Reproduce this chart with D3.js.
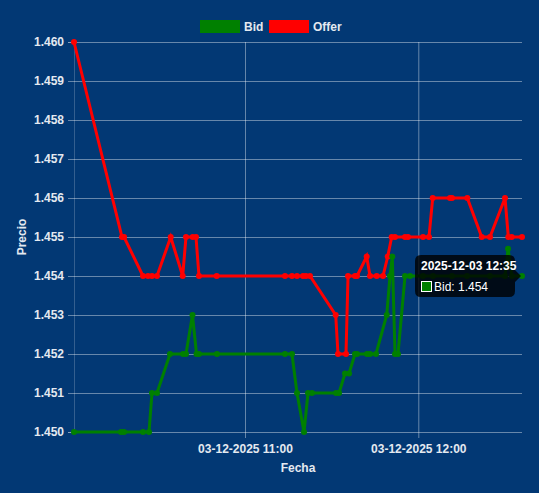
<!DOCTYPE html>
<html>
<head>
<meta charset="utf-8">
<script src="https://cdn.jsdelivr.net/npm/d3@7"></script>
<style>
  html, body { margin: 0; padding: 0; background: #023874; }
  svg { display: block; font-family: "Liberation Sans", Arial, sans-serif; }
</style>
</head>
<body>
<svg id="chart" width="539" height="493"></svg>
<script>
const day = '2025-12-03';

const bidTimes = [
  '10:00:48', '10:17:04', '10:18:07', '10:24:41', '10:26:46', '10:27:48', '10:29:32',
  '10:34:02', '10:38:32', '10:39:34', '10:41:49', '10:43:13', '10:44:04', '10:50:18',
  '11:13:51', '11:16:16', '11:18:00', '11:20:26', '11:21:49', '11:23:12', '11:31:31',
  '11:32:33', '11:34:37', '11:36:01', '11:38:05', '11:38:47', '11:42:14', '11:43:17',
  '11:45:21', '11:49:04', '11:50:12', '11:51:00', '11:51:56', '11:52:58', '11:55:24',
  '11:57:08', '12:01:38', '12:05:05', '12:11:40', '12:16:52', '12:24:49', '12:30:01',
  '12:31:04', '12:32:26', '12:35:54'
];
const bidValues = [
  1.450, 1.450, 1.450, 1.450, 1.450, 1.451, 1.451,
  1.452, 1.452, 1.452, 1.453, 1.452, 1.452, 1.452,
  1.452, 1.452, 1.451, 1.450, 1.451, 1.451, 1.451,
  1.451, 1.4515, 1.4515, 1.452, 1.452, 1.452, 1.452,
  1.452, 1.453, 1.454, 1.4545, 1.452, 1.452, 1.454,
  1.454, 1.454, 1.454, 1.454, 1.454, 1.454, 1.454,
  1.4547, 1.454, 1.454
];

const offerTimes = [
  '10:00:48', '10:17:25', '10:18:07', '10:24:41', '10:26:25', '10:27:48', '10:29:32',
  '10:34:17', '10:38:26', '10:39:34', '10:41:53', '10:43:02', '10:44:04', '10:50:12',
  '11:13:51', '11:16:16', '11:18:00', '11:20:05', '11:21:07', '11:22:30', '11:31:24',
  '11:32:12', '11:34:58', '11:35:40', '11:38:05', '11:38:47', '11:42:08', '11:43:17',
  '11:45:36', '11:47:47', '11:49:25', '11:50:47', '11:51:56', '11:55:24', '11:56:26',
  '12:01:38', '12:03:42', '12:04:59', '12:10:59', '12:11:40', '12:16:58', '12:21:57',
  '12:24:49', '12:30:01', '12:31:10', '12:32:20', '12:35:54'
];
const offerValues = [
  1.460, 1.455, 1.455, 1.454, 1.454, 1.454, 1.454,
  1.455, 1.454, 1.455, 1.455, 1.455, 1.454, 1.454,
  1.454, 1.454, 1.454, 1.454, 1.454, 1.454, 1.453,
  1.452, 1.452, 1.454, 1.454, 1.454, 1.4545, 1.454,
  1.454, 1.454, 1.4545, 1.455, 1.455, 1.455, 1.455,
  1.455, 1.455, 1.456, 1.456, 1.456, 1.456, 1.455,
  1.455, 1.456, 1.455, 1.455, 1.455
];

const yTicks = [1.450, 1.451, 1.452, 1.453, 1.454, 1.455, 1.456, 1.457, 1.458, 1.459, 1.460];
const xTicks = ['11:00:00', '12:00:00'];

const seriesNames = ['Bid', 'Offer'];
const seriesColors = { 'Bid': '#008000', 'Offer': '#ff0000' };

const parseTime = d3.timeParse('%Y-%m-%d %H:%M:%S');
const toDate = t => parseTime(`${day} ${t}`);

const bid = bidTimes.map((t, i) => ({ date: toDate(t), value: bidValues[i] }));
const offer = offerTimes.map((t, i) => ({ date: toDate(t), value: offerValues[i] }));

const svg = d3.select('#chart');
const width = 539;
const height = 493;

const margin = { top: 42, right: 17, bottom: 61, left: 74 };
const innerW = width - margin.left - margin.right;
const innerH = height - margin.top - margin.bottom;

svg.append('rect')
  .attr('width', width)
  .attr('height', height)
  .attr('fill', '#023874');

const allDates = bid.concat(offer).map(d => d.date);
const x = d3.scaleTime()
  .domain(d3.extent(allDates))
  .range([margin.left, margin.left + innerW]);

const y = d3.scaleLinear()
  .domain([1.450, 1.460])
  .range([margin.top + innerH, margin.top]);

const gridColor = 'rgba(255,255,255,0.4)';
const textColor = '#e4e9f0';

// horizontal grid + y ticks
const yAxis = svg.append('g')
  .attr('transform', `translate(${margin.left},0)`)
  .call(d3.axisLeft(y).tickValues(yTicks).tickFormat(d3.format('.3f')).tickSize(6).tickPadding(4));
yAxis.select('.domain').attr('stroke', 'rgba(255,255,255,0.2)');
yAxis.selectAll('.tick line').attr('stroke', gridColor);
yAxis.selectAll('.tick text')
  .attr('fill', textColor)
  .attr('font-size', 12)
  .attr('font-weight', 'bold');

svg.append('g')
  .attr('transform', `translate(${margin.left},0)`)
  .call(d3.axisLeft(y).tickValues(yTicks).tickSize(-innerW).tickFormat(''))
  .call(g => g.select('.domain').remove())
  .selectAll('.tick line').attr('stroke', gridColor);

// vertical grid + x ticks
const xTickDates = xTicks.map(toDate);
const xAxis = svg.append('g')
  .attr('transform', `translate(0,${margin.top + innerH})`)
  .call(d3.axisBottom(x).tickValues(xTickDates).tickFormat(d3.timeFormat('%d-%m-%Y %H:%M')).tickSize(6).tickPadding(6));
xAxis.select('.domain').remove();
xAxis.selectAll('.tick line').attr('stroke', gridColor);
xAxis.selectAll('.tick text')
  .attr('fill', textColor)
  .attr('font-size', 12)
  .attr('font-weight', 'bold');

svg.append('g')
  .attr('transform', `translate(0,${margin.top + innerH})`)
  .call(d3.axisBottom(x).tickValues(xTickDates).tickSize(-innerH).tickFormat(''))
  .call(g => g.select('.domain').remove())
  .selectAll('.tick line').attr('stroke', gridColor);

// axis titles
svg.append('text')
  .attr('x', margin.left + innerW / 2)
  .attr('y', 472)
  .attr('text-anchor', 'middle')
  .attr('fill', textColor)
  .attr('font-size', 12)
  .attr('font-weight', 'bold')
  .text('Fecha');

svg.append('text')
  .attr('transform', `translate(26,${margin.top + innerH / 2}) rotate(-90)`)
  .attr('text-anchor', 'middle')
  .attr('fill', textColor)
  .attr('font-size', 12)
  .attr('font-weight', 'bold')
  .text('Precio');

// lines, offer first so bid sits on top
const line = d3.line().x(d => x(d.date)).y(d => y(d.value));

[['Offer', offer], ['Bid', bid]].forEach(([name, data]) => {
  const g = svg.append('g');
  g.append('path')
    .datum(data)
    .attr('d', line)
    .attr('fill', 'none')
    .attr('stroke', seriesColors[name])
    .attr('stroke-width', 3)
    .attr('stroke-linejoin', 'miter');
  g.selectAll('circle')
    .data(data)
    .enter()
    .append('circle')
    .attr('cx', d => x(d.date))
    .attr('cy', d => y(d.value))
    .attr('r', 3)
    .attr('fill', seriesColors[name]);
});

// legend
const legend = svg.append('g');
const legendX = [200, 269];
seriesNames.forEach((name, i) => {
  legend.append('rect')
    .attr('x', legendX[i])
    .attr('y', 20)
    .attr('width', 40)
    .attr('height', 13)
    .attr('fill', seriesColors[name]);
  legend.append('text')
    .attr('x', legendX[i] + 44)
    .attr('y', 31)
    .attr('fill', textColor)
    .attr('font-size', 12)
    .attr('font-weight', 'bold')
    .text(name);
});

// tooltip on last bid point
const last = bid[bid.length - 1];
const px = x(last.date);
const py = y(last.value);
const tip = svg.append('g');
const boxR = px - 7;
const boxL = boxR - 100;
tip.append('path')
  .attr('d', `M${boxL + 6},${py - 21} H${boxR - 6} Q${boxR},${py - 21} ${boxR},${py - 15} V${py - 6} L${boxR + 6},${py} L${boxR},${py + 6} V${py + 15} Q${boxR},${py + 21} ${boxR - 6},${py + 21} H${boxL + 6} Q${boxL},${py + 21} ${boxL},${py + 15} V${py - 15} Q${boxL},${py - 21} ${boxL + 6},${py - 21} Z`)
  .attr('fill', 'rgba(0,0,0,0.8)');
tip.append('text')
  .attr('x', boxL + 6)
  .attr('y', py - 6)
  .attr('fill', '#fff')
  .attr('font-size', 12)
  .attr('font-weight', 'bold')
  .text(d3.timeFormat('%Y-%m-%d %H:%M')(last.date));
tip.append('rect')
  .attr('x', boxL + 6.5)
  .attr('y', py + 5.5)
  .attr('width', 10)
  .attr('height', 10)
  .attr('fill', seriesColors['Bid'])
  .attr('stroke', '#fff')
  .attr('stroke-width', 1);
tip.append('text')
  .attr('x', boxL + 19)
  .attr('y', py + 15)
  .attr('fill', '#fff')
  .attr('font-size', 12)
  .text(`Bid: ${d3.format('.3f')(last.value)}`);
</script>
</body>
</html>
